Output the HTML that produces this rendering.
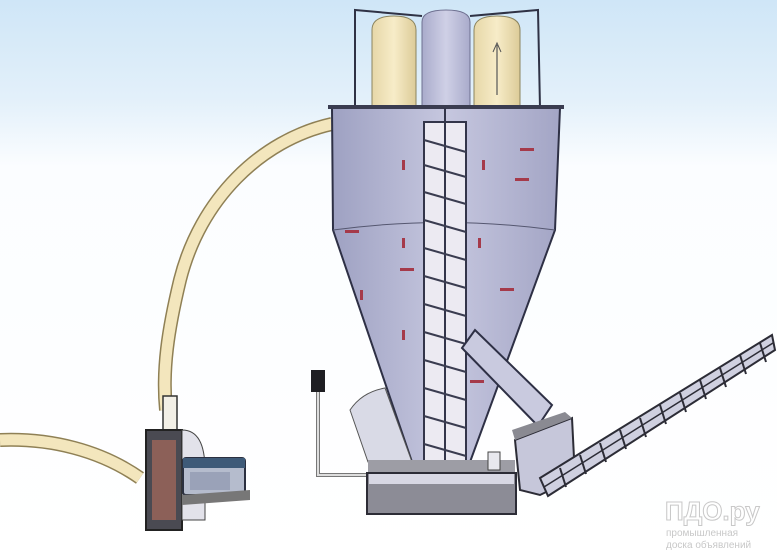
<!DOCTYPE html>
<html><head><style>html,body{margin:0;padding:0;background:#fff}svg{display:block}</style></head>
<body>
<svg width="777" height="555" viewBox="0 0 777 555" xmlns="http://www.w3.org/2000/svg">
<defs>
<linearGradient id="sky" x1="0" y1="0" x2="0" y2="1">
<stop offset="0" stop-color="#cfe6f7"/><stop offset="0.18" stop-color="#e3f0fa"/><stop offset="0.3" stop-color="#fbfdff"/><stop offset="1" stop-color="#ffffff"/></linearGradient>
<linearGradient id="body" x1="0" y1="0" x2="1" y2="0">
<stop offset="0" stop-color="#9ea1c2"/><stop offset="0.5" stop-color="#c6c7df"/><stop offset="1" stop-color="#a3a5c5"/></linearGradient>
<linearGradient id="cream" x1="0" y1="0" x2="1" y2="0">
<stop offset="0" stop-color="#e6d7a8"/><stop offset="0.5" stop-color="#f7ecc8"/><stop offset="1" stop-color="#dccb98"/></linearGradient>
<linearGradient id="mid" x1="0" y1="0" x2="1" y2="0">
<stop offset="0" stop-color="#a9abcb"/><stop offset="0.5" stop-color="#cfd0e6"/><stop offset="1" stop-color="#a9abcb"/></linearGradient>
</defs>
<rect width="777" height="555" fill="url(#sky)"/>
<!-- silos -->
<path d="M372 30 Q372 16 394 16 Q416 16 416 30 L416 108 L372 108Z" fill="url(#cream)" stroke="#8b845f" stroke-width="1"/>
<path d="M422 22 Q422 10 446 10 Q470 10 470 22 L470 108 L422 108Z" fill="url(#mid)" stroke="#6e7090" stroke-width="1"/>
<path d="M474 30 Q474 16 497 16 Q520 16 520 30 L520 108 L474 108Z" fill="url(#cream)" stroke="#8b845f" stroke-width="1"/>
<line x1="497" y1="95" x2="497" y2="45" stroke="#555" stroke-width="1.2"/><path d="M493 52 L497 43 L501 52" fill="none" stroke="#555"/>
<path d="M355 108 L355 10 L422 16 M540 108 L538 10 L470 16" fill="none" stroke="#2f3245" stroke-width="2"/>
<!-- hose -->
<path d="M332 124 C260 140 200 200 180 280 C168 330 162 370 166 410" fill="none" stroke="#8f8055" stroke-width="14"/>
<path d="M332 124 C260 140 200 200 180 280 C168 330 162 370 166 410" fill="none" stroke="#f3e6bd" stroke-width="11"/>
<path d="M0 440 C50 438 100 450 140 478" fill="none" stroke="#8f8055" stroke-width="14"/>
<path d="M0 440 C50 438 100 450 140 478" fill="none" stroke="#f3e6bd" stroke-width="11"/>
<!-- hopper -->
<path d="M332 108 L560 108 L555 230 L470 462 L412 462 L333 230 Z" fill="url(#body)" stroke="#2e3045" stroke-width="2"/>
<path d="M333 230 Q444 215 555 230" fill="none" stroke="#555770" stroke-width="1"/>
<rect x="328" y="105" width="236" height="4" fill="#3a3c50"/>
<!-- screw tube -->
<rect x="424" y="122" width="42" height="340" fill="#eceaf2" stroke="#33354a" stroke-width="2"/>
<line x1="445" y1="108" x2="445" y2="462" stroke="#33354a" stroke-width="2"/>
<g stroke="#3a3c50" stroke-width="2">
<line x1="424" y1="140" x2="466" y2="152"/><line x1="424" y1="165" x2="466" y2="177"/><line x1="424" y1="192" x2="466" y2="204"/><line x1="424" y1="220" x2="466" y2="232"/><line x1="424" y1="248" x2="466" y2="260"/><line x1="424" y1="276" x2="466" y2="288"/><line x1="424" y1="304" x2="466" y2="316"/><line x1="424" y1="332" x2="466" y2="344"/><line x1="424" y1="360" x2="466" y2="372"/><line x1="424" y1="388" x2="466" y2="400"/><line x1="424" y1="416" x2="466" y2="428"/><line x1="424" y1="444" x2="466" y2="456"/>
</g>
<g fill="#a53a4a">
<rect x="402" y="160" width="3" height="10"/><rect x="482" y="160" width="3" height="10"/><rect x="402" y="238" width="3" height="10"/><rect x="478" y="238" width="3" height="10"/><rect x="402" y="330" width="3" height="10"/><rect x="360" y="290" width="3" height="10"/>
<rect x="520" y="148" width="14" height="3"/><rect x="515" y="178" width="14" height="3"/><rect x="500" y="288" width="14" height="3"/><rect x="345" y="230" width="14" height="3"/><rect x="400" y="268" width="14" height="3"/><rect x="470" y="380" width="14" height="3"/>
</g>
<!-- chute -->
<path d="M462 348 L475 330 L552 405 L538 426 Z" fill="#c9cadf" stroke="#2e3045" stroke-width="2"/>
<!-- small cone left -->
<path d="M350 410 Q362 392 385 388 L412 462 L368 462 Z" fill="#d9dae6" stroke="#555" stroke-width="1"/>
<!-- bracket -->
<rect x="311" y="370" width="14" height="22" fill="#1e1e22"/>
<path d="M318 392 L318 475 L368 475" fill="none" stroke="#777" stroke-width="4"/>
<path d="M318 392 L318 475 L368 475" fill="none" stroke="#ddd" stroke-width="2"/>
<!-- base -->
<path d="M368 460 L515 460 L515 473 L368 473Z" fill="#9d9da5"/>
<rect x="367" y="473" width="149" height="41" fill="#8c8c96" stroke="#2c2c36" stroke-width="2"/>
<rect x="369" y="474" width="145" height="10" fill="#d8d8e4"/>
<rect x="488" y="452" width="12" height="18" fill="#e8e8ee" stroke="#444"/>
<!-- conveyor -->
<path d="M515 440 L572 418 L575 478 L540 495 L520 490Z" fill="#c6c7da" stroke="#2c2c36" stroke-width="2"/>
<path d="M515 440 L572 418 L565 412 L512 430Z" fill="#8a8a92"/>
<path d="M540 478 L772 335 L775 350 L548 496 Z" fill="#cfd0e0" stroke="#2c2c36" stroke-width="2"/>
<line x1="544" y1="487" x2="773" y2="343" stroke="#2c2c36" stroke-width="1.5"/>
<g stroke="#2c2c36" stroke-width="2">
<line x1="560" y1="468" x2="566" y2="487"/><line x1="580" y1="455" x2="586" y2="474"/><line x1="600" y1="443" x2="606" y2="462"/><line x1="620" y1="430" x2="626" y2="449"/><line x1="640" y1="418" x2="646" y2="437"/><line x1="660" y1="405" x2="666" y2="424"/><line x1="680" y1="393" x2="686" y2="412"/><line x1="700" y1="380" x2="706" y2="399"/><line x1="720" y1="368" x2="726" y2="387"/><line x1="740" y1="355" x2="746" y2="374"/><line x1="760" y1="343" x2="766" y2="362"/>
</g>
<!-- fan -->
<rect x="163" y="396" width="14" height="36" fill="#f2efe6" stroke="#333" stroke-width="1.5"/>
<rect x="146" y="430" width="36" height="100" fill="#4a4a52" stroke="#222" stroke-width="2"/>
<rect x="152" y="440" width="24" height="80" fill="#8c6058"/>
<path d="M182 430 Q205 430 205 470 L205 520 L182 520Z" fill="#e2e2ea" stroke="#444"/>
<rect x="183" y="458" width="62" height="37" rx="3" fill="#b5bccd" stroke="#2b3040" stroke-width="2"/>
<rect x="183" y="458" width="62" height="10" fill="#3e5a78"/>
<rect x="190" y="472" width="40" height="18" fill="#9aa2b8"/>
<path d="M182 495 L250 490 L250 500 L182 505Z" fill="#777"/>
<!-- watermark -->
<text x="665" y="520" font-family="Liberation Sans, sans-serif" font-size="26" font-weight="bold" fill="#ffffff" stroke="#c8c8c8" stroke-width="1">ПДО.ру</text>
<text x="666" y="536" font-family="Liberation Sans, sans-serif" font-size="10" fill="#c8c8c8">промышленная</text>
<text x="666" y="548" font-family="Liberation Sans, sans-serif" font-size="10" fill="#c8c8c8">доска объявлений</text>
</svg>
</body></html>
